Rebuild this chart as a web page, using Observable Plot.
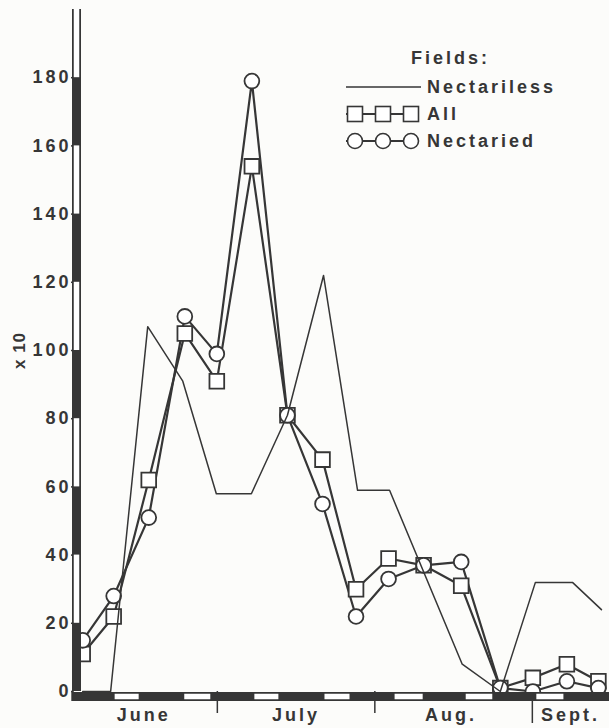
<!DOCTYPE html>
<html>
<head>
<meta charset="utf-8">
<script src="https://cdn.jsdelivr.net/npm/d3@7"></script>
<script src="https://cdn.jsdelivr.net/npm/@observablehq/plot@0.6"></script>
<style>
  html, body { margin: 0; padding: 0; background: #fcfcfa; }
  #wrap { position: relative; width: 609px; height: 728px; overflow: hidden; }
  #wrap svg text { letter-spacing: 3px; }
  #wrap g[aria-label="y-axis label"] text { font-size: 17px; letter-spacing: 1px; }
  .lg { position: absolute; font-family: "Liberation Sans", Arial, sans-serif; font-weight: bold;
        font-size: 18px; letter-spacing: 3px; color: #363636; line-height: 20px; white-space: nowrap; }
  .icon { position: absolute; }
</style>
</head>
<body>
<div id="wrap"></div>
<script>
// ---- data (days counted from June 1) ----
const sampleDays      = [3.5, 9.6, 16.5, 23.6, 29.9, 36.8, 43.8, 50.7, 57.3, 63.7, 70.6, 78.0, 85.7, 92.1, 98.8, 105.0];
const allFields       = [11, 22, 62, 105, 91, 154, 81, 68, 30, 39, 37, 31, 1, 4, 8, 3];
const nectaried       = [15, 28, 51, 110, 99, 179, 81, 55, 22, 33, 37, 38, 1, 0, 3, 1];
const nectarilessDays = [3.5, 9.0, 16.3, 23.2, 29.8, 36.7, 43.8, 50.9, 57.6, 63.9, 78.2, 85.7, 92.6, 99.9, 105.6];
const nectariless     = [0, 0, 107, 91, 58, 58, 81, 122, 59, 59, 8, 0, 32, 32, 24];

const seriesNames     = ["Nectariless", "All", "Nectaried"];
const legendTitle     = "Fields:";
const yLabel          = "x 10";
const yTicks          = [0, 20, 40, 60, 80, 100, 120, 140, 160, 180];
const monthStarts     = [30, 61];          // July 1, Aug 1
const septStart       = [92];              // Sept 1
const monthLabels     = ["June", "July", "Aug.", "Sept."];
const monthLabelDays  = [15.5, 45.5, 76, 99.5];
// dark weekly bands of the striped x axis and the 20-unit bands of the striped y axis
const xBandStart      = [2.3, 15.5, 29.6, 43.0, 57.0, 71.4, 85.1, 99.1];
const xBandEnd        = [9.0, 22.7, 36.5, 50.3, 64.1, 78.1, 92.0, 106.4];
const yBandStart      = [0, 40, 80, 120, 160];
const yBandEnd        = [20, 60, 100, 140, 180];

const xDomain = [2.28, 106.4];
const yDomain = [0, 200];
const ink = "#363636";

const allData  = sampleDays.map((d, i) => ({day: d, v: allFields[i]}));
const nectData = sampleDays.map((d, i) => ({day: d, v: nectaried[i]}));
const nlData   = nectarilessDays.map((d, i) => ({day: d, v: nectariless[i]}));
const xBands   = xBandStart.map((s, i) => ({s, e: xBandEnd[i]}));
const yBands   = yBandStart.map((s, i) => ({s, e: yBandEnd[i]}));

const chart = Plot.plot({
  width: 609, height: 728,
  marginLeft: 76, marginRight: 4, marginTop: 9, marginBottom: 37,
  x: {domain: xDomain},
  y: {domain: yDomain},
  style: {background: "transparent", fontFamily: "'Liberation Sans', Arial, sans-serif",
          fontSize: "18px", fontWeight: "bold", color: ink, overflow: "visible"},
  marks: [
    Plot.axisY({ticks: yTicks, tickSize: 5, tickPadding: 0, stroke: ink, strokeWidth: 1.5,
                label: yLabel, labelAnchor: "center", labelOffset: 64, labelArrow: "none"}),
    Plot.axisX({ticks: monthStarts, tickSize: 22, tickFormat: () => "", label: null, stroke: ink, strokeWidth: 1.5}),
    Plot.axisX({ticks: septStart, tickSize: 32, tickFormat: () => "", label: null, stroke: ink, strokeWidth: 1.5}),
    Plot.axisX({ticks: monthLabelDays, tickSize: 0, tickPadding: 17,
                tickFormat: d => monthLabels[monthLabelDays.indexOf(d)], label: null}),
    Plot.lineY(allData,  {x: "day", y: "v", stroke: ink, strokeWidth: 2.2}),
    Plot.lineY(nectData, {x: "day", y: "v", stroke: ink, strokeWidth: 2.2}),
    Plot.dot(allData,  {x: "day", y: "v", symbol: "square", r: 8.3, fill: "#fff", stroke: ink, strokeWidth: 1.8}),
    Plot.dot(nectData, {x: "day", y: "v", symbol: "circle", r: 7.4, fill: "#fff", stroke: ink, strokeWidth: 1.8}),
    Plot.lineY(nlData, {x: "day", y: "v", stroke: ink, strokeWidth: 1.5}),
    // striped left axis bar
    Plot.ruleX([xDomain[0]], {y1: yDomain[0], y2: yDomain[1], stroke: ink, strokeWidth: 9}),
    Plot.ruleX([xDomain[0]], {y1: yDomain[0], y2: yDomain[1], stroke: "#fff", strokeWidth: 5.5, insetTop: 1.5}),
    Plot.ruleX(yBands, {x: () => xDomain[0], y1: "s", y2: "e", stroke: ink, strokeWidth: 9}),
    // striped bottom axis bar
    Plot.ruleY([yDomain[0]], {x1: xDomain[0], x2: xDomain[1], dy: 5, stroke: ink, strokeWidth: 9, strokeLinecap: "square"}),
    Plot.ruleY([yDomain[0]], {x1: xDomain[0], x2: xDomain[1], dy: 5, stroke: "#fff", strokeWidth: 5.5}),
    Plot.ruleY(xBands, {y: () => yDomain[0], x1: "s", x2: "e", dy: 5, stroke: ink, strokeWidth: 9, strokeLinecap: "square"})
  ]
});
document.getElementById("wrap").appendChild(chart);

// ---- legend (top right, inside the plot area) ----
const wrap = document.getElementById("wrap");
function addText(txt, left, cy) {
  const d = document.createElement("div");
  d.className = "lg"; d.textContent = txt;
  d.style.left = left + "px"; d.style.top = (cy - 10) + "px";
  wrap.appendChild(d);
}
function addIcon(kind, cy) {
  const ns = "http://www.w3.org/2000/svg";
  const s = document.createElementNS(ns, "svg");
  s.setAttribute("class", "icon");
  s.setAttribute("width", 80); s.setAttribute("height", 20);
  s.style.left = "343px"; s.style.top = (cy - 10) + "px";
  const line = document.createElementNS(ns, "line");
  line.setAttribute("x1", 3); line.setAttribute("x2", kind === "line" ? 78 : 74);
  line.setAttribute("y1", 10); line.setAttribute("y2", 10);
  line.setAttribute("stroke", ink); line.setAttribute("stroke-width", kind === "line" ? 1.6 : 1.8);
  s.appendChild(line);
  if (kind !== "line") {
    [12, 40, 68].forEach(cx => {
      let m;
      if (kind === "square") {
        m = document.createElementNS(ns, "rect");
        m.setAttribute("x", cx - 7.5); m.setAttribute("y", 2.5);
        m.setAttribute("width", 15); m.setAttribute("height", 15);
      } else {
        m = document.createElementNS(ns, "circle");
        m.setAttribute("cx", cx); m.setAttribute("cy", 10); m.setAttribute("r", 7.5);
      }
      m.setAttribute("fill", "#fff"); m.setAttribute("stroke", ink); m.setAttribute("stroke-width", 1.6);
      s.appendChild(m);
    });
  }
  wrap.appendChild(s);
}
addText(legendTitle, 411, 58);
const kinds = ["line", "square", "circle"];
seriesNames.forEach((name, i) => {
  const cy = 87 + i * 27;
  addIcon(kinds[i], cy);
  addText(name, 427, cy);
});
</script>
</body>
</html>
